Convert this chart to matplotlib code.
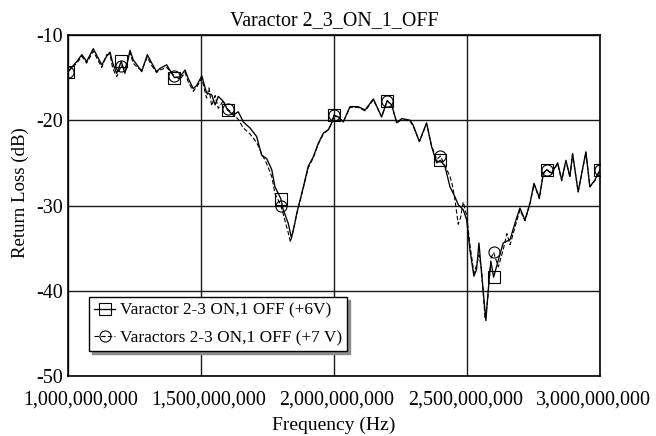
import numpy as np
import matplotlib
matplotlib.use("Agg")
import matplotlib.pyplot as plt
from matplotlib.ticker import FixedLocator, FuncFormatter
from matplotlib.transforms import ScaledTranslation

plt.rcParams['font.family'] = ['Liberation Serif', 'DejaVu Serif']
plt.rcParams['axes.unicode_minus'] = False

# frequency in GHz, return loss in dB
sol_f = [1.000, 1.033, 1.052, 1.070, 1.095, 1.110, 1.127, 1.145, 1.158, 1.168,
         1.183, 1.200, 1.214, 1.233, 1.245, 1.264, 1.277, 1.298, 1.315, 1.333,
         1.346, 1.371, 1.400, 1.421, 1.440, 1.452, 1.471, 1.484, 1.503, 1.521,
         1.540, 1.553, 1.565, 1.584, 1.600, 1.621, 1.640, 1.659, 1.684, 1.709,
         1.728, 1.747, 1.766, 1.778, 1.800, 1.809, 1.828, 1.840, 1.850, 1.860,
         1.885, 1.903, 1.922, 1.941, 1.960, 1.979, 1.991, 2.000, 2.016, 2.035,
         2.060, 2.091, 2.117, 2.148, 2.179, 2.200, 2.217, 2.236, 2.255, 2.286,
         2.298, 2.321, 2.348, 2.367, 2.386, 2.400, 2.417, 2.436, 2.455, 2.467,
         2.486, 2.499, 2.511, 2.526, 2.536, 2.545, 2.555, 2.571, 2.583, 2.590,
         2.600, 2.618, 2.636, 2.662, 2.680, 2.699, 2.718, 2.737, 2.752, 2.772,
         2.787, 2.800, 2.818, 2.841, 2.856, 2.872, 2.887, 2.897, 2.918, 2.947,
         2.962, 2.981, 3.000]
sol_db = [-14.3, -13.1, -12.3, -13.1, -11.6, -12.5, -13.5, -12.5, -12.0, -13.3,
          -14.5, -13.1, -14.5, -11.8, -12.9, -13.7, -14.3, -12.3, -13.3, -14.3,
          -13.9, -13.5, -15.0, -14.9, -14.1, -15.1, -16.3, -15.9, -14.8, -16.8,
          -17.0, -18.2, -17.2, -17.8, -18.8, -19.4, -19.0, -20.2, -20.9, -21.9,
          -24.1, -24.5, -25.8, -27.8, -29.2, -30.5, -32.1, -33.8, -32.5, -30.9,
          -27.8, -25.4, -24.3, -22.7, -21.5, -21.1, -20.3, -19.4, -19.6, -20.2,
          -18.4, -18.4, -18.8, -17.5, -19.6, -17.7, -18.2, -20.3, -19.8, -20.0,
          -20.6, -22.5, -20.3, -23.1, -25.0, -24.7, -25.4, -27.8, -29.0, -29.9,
          -30.5, -31.7, -35.2, -38.3, -37.5, -34.4, -38.0, -43.5, -38.7, -36.6,
          -38.4, -36.4, -34.4, -34.0, -32.1, -30.3, -31.7, -29.7, -27.4, -29.1,
          -26.2, -25.8, -26.2, -25.0, -27.0, -24.7, -26.6, -23.9, -28.4, -23.7,
          -27.8, -27.0, -25.8]

dsh_f = [1.000, 1.033, 1.052, 1.070, 1.095, 1.110, 1.127, 1.145, 1.158, 1.168,
         1.183, 1.200, 1.214, 1.233, 1.245, 1.264, 1.277, 1.298, 1.315, 1.333,
         1.346, 1.371, 1.400, 1.421, 1.440, 1.452, 1.471, 1.484, 1.503, 1.521,
         1.530, 1.540, 1.553, 1.565, 1.584, 1.600, 1.621, 1.640, 1.659, 1.684,
         1.709, 1.728, 1.747, 1.766, 1.778, 1.800, 1.809, 1.828, 1.836, 1.846,
         1.860, 1.885, 1.903, 1.922, 1.941, 1.960, 1.979, 1.991, 2.000, 2.016,
         2.035, 2.060, 2.091, 2.117, 2.148, 2.179, 2.200, 2.217, 2.236, 2.255,
         2.286, 2.298, 2.321, 2.348, 2.367, 2.386, 2.400, 2.417, 2.436, 2.445,
         2.455, 2.467, 2.476, 2.486, 2.499, 2.511, 2.526, 2.536, 2.545, 2.555,
         2.568, 2.578, 2.590, 2.600, 2.618, 2.636, 2.650, 2.662, 2.680, 2.699,
         2.718, 2.737, 2.752, 2.772, 2.787, 2.800, 2.818, 2.841, 2.856, 2.872,
         2.887, 2.897, 2.918, 2.947, 2.962, 2.981, 3.000]
dsh_db = [-14.3, -13.3, -12.5, -13.3, -11.9, -12.8, -13.8, -12.3, -12.3, -13.9,
          -14.9, -13.6, -14.0, -12.1, -13.3, -13.9, -14.1, -12.6, -13.6, -14.4,
          -14.1, -13.8, -14.8, -15.2, -14.4, -15.5, -16.6, -16.1, -15.1, -17.4,
          -16.2, -18.3, -17.1, -18.6, -17.7, -18.7, -19.2, -19.9, -20.9, -21.6,
          -22.6, -23.9, -25.1, -26.6, -28.6, -30.0, -31.0, -33.2, -34.3, -33.0,
          -31.0, -27.9, -25.6, -24.4, -22.8, -21.6, -21.1, -20.4, -19.4, -19.7,
          -20.2, -18.5, -18.5, -18.9, -17.6, -19.6, -17.7, -18.3, -20.3, -19.9,
          -20.1, -20.7, -22.5, -20.4, -23.0, -24.6, -24.2, -25.3, -26.6, -27.6,
          -29.4, -32.2, -31.4, -29.6, -31.2, -34.6, -37.9, -37.0, -35.8, -37.6,
          -43.3, -41.0, -36.2, -35.5, -37.2, -35.2, -33.3, -34.6, -32.6, -30.5,
          -31.8, -29.8, -27.5, -29.2, -26.3, -25.8, -26.3, -25.1, -27.1, -24.8,
          -26.7, -24.0, -28.4, -23.8, -27.8, -27.1, -25.8]

marker_f = [1.0, 1.2, 1.4, 1.6, 1.8, 2.0, 2.2, 2.4, 2.6, 2.8, 3.0]
x_ticks = [1.0e9, 1.5e9, 2.0e9, 2.5e9, 3.0e9]
y_ticks = [-50, -40, -30, -20, -10]
labels = ['Varactor 2-3 ON,1 OFF (+6V)', 'Varactors 2-3 ON,1 OFF (+7 V)']


def mark_idx(freqs):
    freqs = np.asarray(freqs)
    return [int(np.argmin(np.abs(freqs - m))) for m in marker_f]


fig = plt.figure(figsize=(6.56, 4.36), dpi=100)
ax = fig.add_axes([0.1037, 0.1376, 0.8109, 0.7821])

ax.plot(np.array(sol_f) * 1e9, sol_db, color='black', lw=0.95, ls='-',
        marker='s', ms=8, mfc='none', mec='black', mew=0.8,
        markevery=mark_idx(sol_f), label=labels[0])
ax.plot(np.array(dsh_f) * 1e9, dsh_db, color='black', lw=0.8, ls=(0, (4, 2)),
        marker='o', ms=8, mfc='none', mec='black', mew=0.8,
        markevery=mark_idx(dsh_f), label=labels[1])

ax.set_xlim(1.0e9, 3.0e9)
ax.set_ylim(-50, -10)
ax.xaxis.set_major_locator(FixedLocator(x_ticks))
ax.yaxis.set_major_locator(FixedLocator(y_ticks))
ax.xaxis.set_major_formatter(FuncFormatter(lambda v, p: f'{v:,.0f}'))
ax.yaxis.set_major_formatter(FuncFormatter(lambda v, p: f'{v:.0f}'))
ax.grid(True, color='0.1', lw=1.0)
ax.set_axisbelow(True)
ax.tick_params(length=0, labelsize=14.4)
ax.tick_params(axis='x', pad=10.5)
ax.tick_params(axis='y', pad=3.4)
for s in ax.spines.values():
    s.set_linewidth(1.2)

# the x labels in the reference sit a little squeezed toward the middle
for i, lab in enumerate(ax.get_xticklabels()):
    dx = (12.3 - 4.7 * i) / 100.0
    lab.set_transform(lab.get_transform() + ScaledTranslation(dx, 0, fig.dpi_scale_trans))

ax.set_title('Varactor 2_3_ON_1_OFF', fontsize=14.4, pad=7.2)
ax.set_xlabel('Frequency (Hz)', fontsize=14.0)
ax.xaxis.set_label_coords(0.5, -0.118)
ax.set_ylabel('Return Loss (dB)', fontsize=13.6)
ax.yaxis.set_label_coords(-0.0733, 0.537)

leg = ax.legend(loc='lower left', bbox_to_anchor=(0.0395, 0.073), borderaxespad=0,
                fontsize=12.4, handlelength=1.2, handletextpad=0.3, numpoints=1,
                borderpad=0.3, labelspacing=0.65, fancybox=False, framealpha=1,
                edgecolor='black', shadow={'color': '0.55', 'alpha': 1})
leg.get_frame().set_linewidth(1.0)

fig.savefig('out.png', dpi=100)
